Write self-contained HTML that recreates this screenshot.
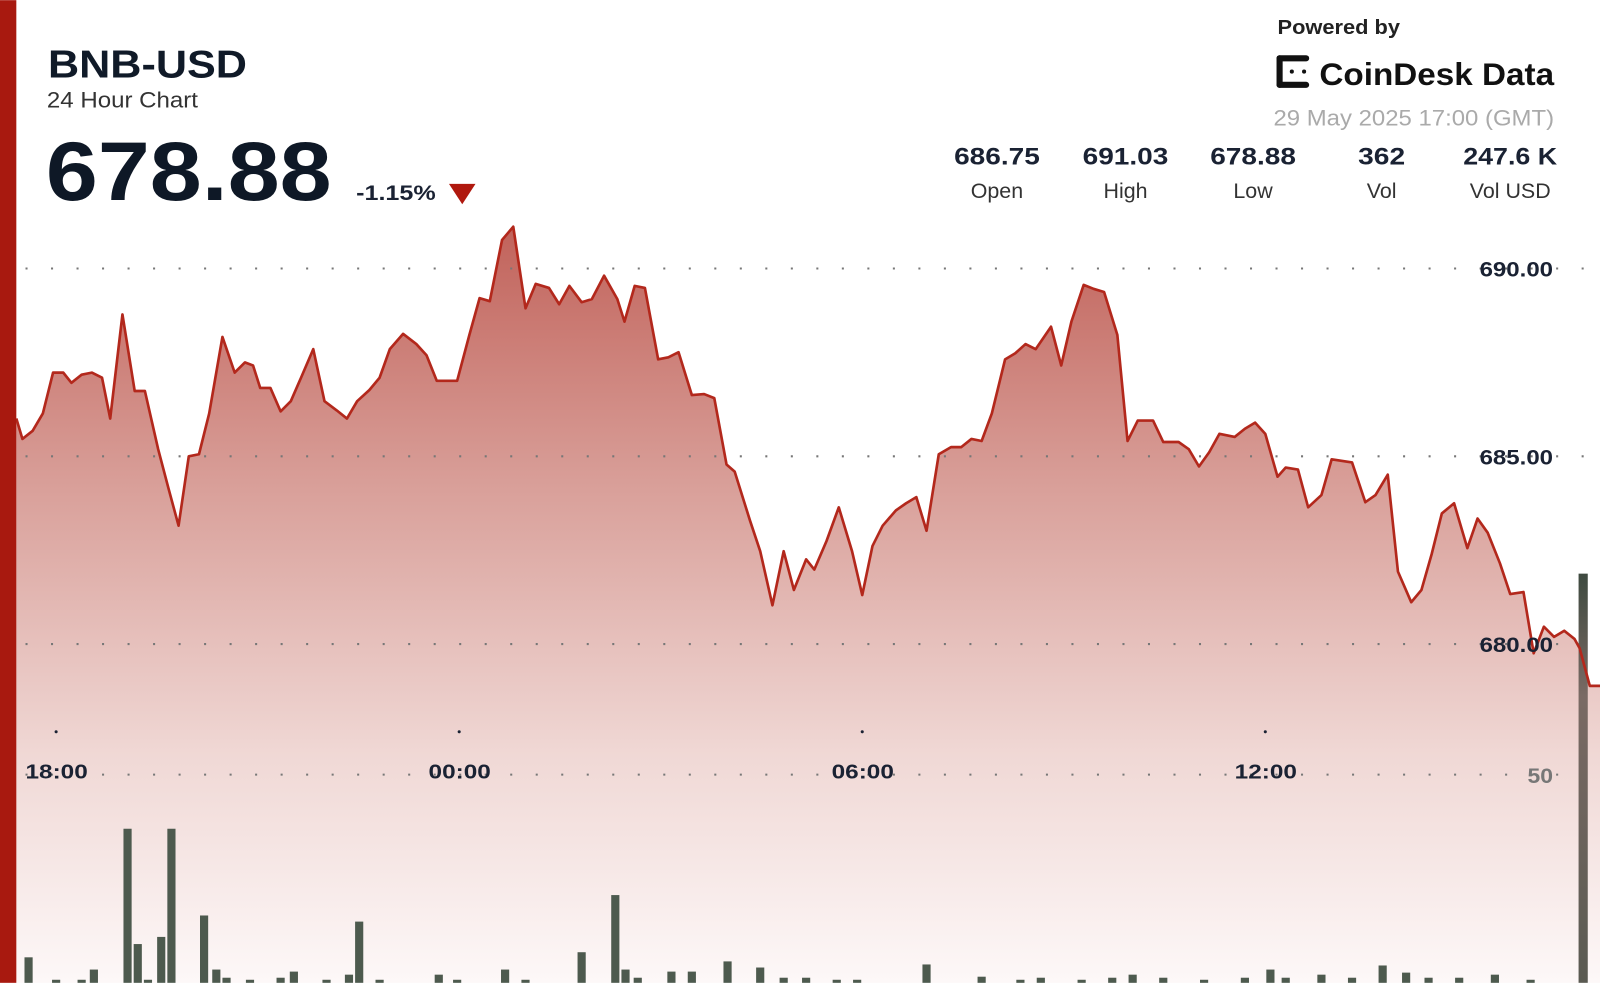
<!DOCTYPE html>
<html><head><meta charset="utf-8"><style>html,body{margin:0;padding:0;background:#fff;overflow:hidden}svg{display:block}</style></head>
<body>
<svg width="1600" height="983" viewBox="0 0 1568 963" xmlns="http://www.w3.org/2000/svg" font-family="'Liberation Sans', sans-serif">
<defs>
<linearGradient id="g" x1="0" y1="220" x2="0" y2="963" gradientUnits="userSpaceOnUse">
<stop offset="0" stop-color="#c1625a"/>
<stop offset="0.35" stop-color="#d9a09a"/>
<stop offset="0.7" stop-color="#f0d8d5"/>
<stop offset="1" stop-color="#fdf8f8"/>
</linearGradient>
<linearGradient id="bb" x1="0" y1="562" x2="0" y2="963" gradientUnits="userSpaceOnUse">
<stop offset="0" stop-color="#3e4a40"/><stop offset="0.3" stop-color="#7a6a64"/><stop offset="1" stop-color="#5a5a52"/>
</linearGradient>
</defs>
<rect width="1568" height="963" fill="#fff"/>
<polygon fill="url(#g)" points="16,410 22,430 32,422 42,405 52,365 62,365 70,375 80,367 90,365 100,370 108,410 120,308 132,383 142,383 155,440 165,478 175,515 185,447 195,445 205,405 218,330 230,365 240,355 248,358 255,380 265,380 275,403 285,393 295,370 307,342 318,393 330,402 340,410 350,393 362,382 372,370 382,342 395,327 408,337 418,348 428,373 448,373 460,328 470,292 480,295 492,235 503,222 515,302 525,278 538,282 548,298 558,280 570,296 580,293 592,270 605,293 612,315 622,280 632,282 645,352 655,350 665,345 678,387 690,386 700,390 712,455 720,462 735,510 745,540 757,593 768,540 778,578 790,548 798,558 810,530 822,497 835,540 845,583 855,535 865,515 878,500 888,493 898,487 908,520 920,445 932,438 942,438 952,430 962,432 972,405 985,352 995,346 1005,337 1015,342 1030,320 1040,358 1050,315 1062,279 1072,283 1082,286 1095,328 1105,432 1115,412 1130,412 1140,433 1155,433 1165,440 1175,457 1185,443 1195,425 1210,428 1220,420 1230,414 1240,425 1252,467 1260,458 1272,460 1282,497 1295,485 1305,450 1325,453 1338,492 1348,485 1360,465 1370,560 1383,590 1393,578 1403,543 1413,503 1425,493 1438,537 1448,508 1458,522 1470,552 1480,582 1493,580 1503,640 1513,614 1523,624 1533,618 1543,626 1548,635 1558,672 1568,672 1568,963 16,963"/>
<g stroke="#777" stroke-width="2" stroke-dasharray="2 23" fill="none">
<line x1="25" y1="263" x2="1568" y2="263"/><line x1="25" y1="447" x2="1568" y2="447"/><line x1="25" y1="631" x2="1568" y2="631"/><line x1="25" y1="759" x2="1568" y2="759"/>
</g>
<g fill="#4d5a4e">
<rect x="24" y="938" width="8" height="25"/><rect x="51" y="960" width="8" height="3"/><rect x="76" y="960" width="8" height="3"/><rect x="88" y="950" width="8" height="13"/><rect x="121" y="812" width="8" height="151"/><rect x="131" y="925" width="8" height="38"/><rect x="141" y="960" width="8" height="3"/><rect x="154" y="918" width="8" height="45"/><rect x="164" y="812" width="8" height="151"/><rect x="196" y="897" width="8" height="66"/><rect x="208" y="950" width="8" height="13"/><rect x="218" y="958" width="8" height="5"/><rect x="241" y="960" width="8" height="3"/><rect x="271" y="958" width="8" height="5"/><rect x="284" y="952" width="8" height="11"/><rect x="316" y="960" width="8" height="3"/><rect x="338" y="955" width="8" height="8"/><rect x="348" y="903" width="8" height="60"/><rect x="368" y="960" width="8" height="3"/><rect x="426" y="955" width="8" height="8"/><rect x="444" y="960" width="8" height="3"/><rect x="491" y="950" width="8" height="13"/><rect x="511" y="960" width="8" height="3"/><rect x="566" y="933" width="8" height="30"/><rect x="599" y="877" width="8" height="86"/><rect x="609" y="950" width="8" height="13"/><rect x="621" y="958" width="8" height="5"/><rect x="654" y="952" width="8" height="11"/><rect x="674" y="952" width="8" height="11"/><rect x="709" y="942" width="8" height="21"/><rect x="741" y="948" width="8" height="15"/><rect x="764" y="958" width="8" height="5"/><rect x="786" y="958" width="8" height="5"/><rect x="816" y="960" width="8" height="3"/><rect x="836" y="960" width="8" height="3"/><rect x="904" y="945" width="8" height="18"/><rect x="958" y="957" width="8" height="6"/><rect x="996" y="960" width="8" height="3"/><rect x="1016" y="958" width="8" height="5"/><rect x="1056" y="960" width="8" height="3"/><rect x="1086" y="958" width="8" height="5"/><rect x="1106" y="955" width="8" height="8"/><rect x="1136" y="958" width="8" height="5"/><rect x="1176" y="960" width="8" height="3"/><rect x="1216" y="958" width="8" height="5"/><rect x="1241" y="950" width="8" height="13"/><rect x="1256" y="958" width="8" height="5"/><rect x="1291" y="955" width="8" height="8"/><rect x="1321" y="958" width="8" height="5"/><rect x="1351" y="946" width="8" height="17"/><rect x="1374" y="953" width="8" height="10"/><rect x="1396" y="958" width="8" height="5"/><rect x="1426" y="958" width="8" height="5"/><rect x="1461" y="955" width="8" height="8"/><rect x="1496" y="960" width="8" height="3"/>
</g>
<rect x="1547" y="562" width="9" height="401" fill="url(#bb)"/>
<polyline fill="none" stroke="#b3281c" stroke-width="2.6" stroke-linejoin="round" points="16,410 22,430 32,422 42,405 52,365 62,365 70,375 80,367 90,365 100,370 108,410 120,308 132,383 142,383 155,440 165,478 175,515 185,447 195,445 205,405 218,330 230,365 240,355 248,358 255,380 265,380 275,403 285,393 295,370 307,342 318,393 330,402 340,410 350,393 362,382 372,370 382,342 395,327 408,337 418,348 428,373 448,373 460,328 470,292 480,295 492,235 503,222 515,302 525,278 538,282 548,298 558,280 570,296 580,293 592,270 605,293 612,315 622,280 632,282 645,352 655,350 665,345 678,387 690,386 700,390 712,455 720,462 735,510 745,540 757,593 768,540 778,578 790,548 798,558 810,530 822,497 835,540 845,583 855,535 865,515 878,500 888,493 898,487 908,520 920,445 932,438 942,438 952,430 962,432 972,405 985,352 995,346 1005,337 1015,342 1030,320 1040,358 1050,315 1062,279 1072,283 1082,286 1095,328 1105,432 1115,412 1130,412 1140,433 1155,433 1165,440 1175,457 1185,443 1195,425 1210,428 1220,420 1230,414 1240,425 1252,467 1260,458 1272,460 1282,497 1295,485 1305,450 1325,453 1338,492 1348,485 1360,465 1370,560 1383,590 1393,578 1403,543 1413,503 1425,493 1438,537 1448,508 1458,522 1470,552 1480,582 1493,580 1503,640 1513,614 1523,624 1533,618 1543,626 1548,635 1558,672 1568,672"/>
<rect x="0" y="0" width="16" height="963" fill="#a8190f"/>
<g font-weight="bold" font-size="21" fill="#1a2233" text-anchor="end">
<text x="1522" y="271" textLength="72" lengthAdjust="spacingAndGlyphs">690.00</text><text x="1522" y="455" textLength="72" lengthAdjust="spacingAndGlyphs">685.00</text><text x="1522" y="639" textLength="72" lengthAdjust="spacingAndGlyphs">680.00</text>
<text x="1522" y="767" fill="#777" textLength="25" lengthAdjust="spacingAndGlyphs">50</text>
</g>
<g fill="#1a2233"><circle cx="55" cy="717" r="1.5"/><circle cx="450" cy="717" r="1.5"/><circle cx="845" cy="717" r="1.5"/><circle cx="1240" cy="717" r="1.5"/></g>
<g font-weight="bold" font-size="20" fill="#1a2233">
<text x="25" y="763" textLength="61" lengthAdjust="spacingAndGlyphs">18:00</text><text x="420" y="763" textLength="61" lengthAdjust="spacingAndGlyphs">00:00</text><text x="815" y="763" textLength="61" lengthAdjust="spacingAndGlyphs">06:00</text><text x="1210" y="763" textLength="61" lengthAdjust="spacingAndGlyphs">12:00</text>
</g>
<text x="47" y="76" font-size="38" font-weight="bold" fill="#101a28" textLength="195" lengthAdjust="spacingAndGlyphs">BNB-USD</text>
<text x="46" y="105" font-size="22" fill="#333" textLength="148" lengthAdjust="spacingAndGlyphs">24 Hour Chart</text>
<text x="45" y="196" font-size="82" font-weight="bold" fill="#0e1826" textLength="280" lengthAdjust="spacingAndGlyphs">678.88</text>
<text x="349" y="196" font-size="21" font-weight="bold" fill="#1a2233" textLength="78" lengthAdjust="spacingAndGlyphs">-1.15%</text>
<polygon points="440,180 466,180 453,200" fill="#b0180e"/>
<text x="1252" y="33" font-size="20" font-weight="bold" fill="#222" textLength="120" lengthAdjust="spacingAndGlyphs">Powered by</text>
<g fill="#111">
<rect x="1251" y="54" width="6" height="32" rx="3"/><rect x="1251" y="54" width="32" height="6" rx="3"/><rect x="1251" y="80" width="32" height="6" rx="3"/>
<circle cx="1266" cy="70" r="2"/><circle cx="1278" cy="70" r="2"/>
</g>
<text x="1293" y="83" font-size="31" font-weight="bold" fill="#111" textLength="230" lengthAdjust="spacingAndGlyphs">CoinDesk Data</text>
<text x="1248" y="123" font-size="22" fill="#aaa" textLength="275" lengthAdjust="spacingAndGlyphs">29 May 2025 17:00 (GMT)</text>
<g text-anchor="middle">
<g font-size="24" font-weight="bold" fill="#1a2233">
<text x="977" y="161" textLength="84" lengthAdjust="spacingAndGlyphs">686.75</text><text x="1103" y="161" textLength="84" lengthAdjust="spacingAndGlyphs">691.03</text><text x="1228" y="161" textLength="84" lengthAdjust="spacingAndGlyphs">678.88</text><text x="1354" y="161" textLength="46" lengthAdjust="spacingAndGlyphs">362</text><text x="1480" y="161" textLength="92" lengthAdjust="spacingAndGlyphs">247.6 K</text>
</g>
<g font-size="21" fill="#333">
<text x="977" y="194">Open</text><text x="1103" y="194">High</text><text x="1228" y="194">Low</text><text x="1354" y="194">Vol</text><text x="1480" y="194">Vol USD</text>
</g>
</g>
</svg>
</body></html>
